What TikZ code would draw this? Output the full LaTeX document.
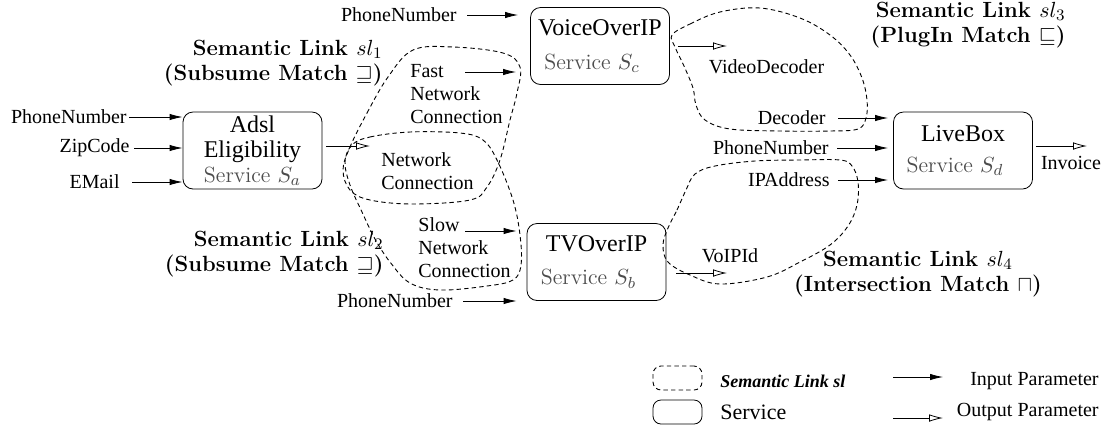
\documentclass[tikz,border=0pt]{standalone}
\usepackage{fontspec}
\newfontfamily\tms{Liberation Serif}
\usetikzlibrary{arrows.meta}
\definecolor{servgray}{gray}{0.3}

\begin{document}
\begin{tikzpicture}[
    x=0.5pt, y=-0.5pt,
    service/.style={draw,rounded corners=5pt,minimum width=69.5pt,minimum height=38.5pt,inner sep=0pt,align=center,font=\fontsize{12}{12.5}\selectfont},
    param/.style={font=\tms\fontsize{10}{11.5}\selectfont,inner sep=1pt},
    linklabel/.style={font=\fontsize{11}{12.5}\selectfont\bfseries,inner sep=0pt},
    slink/.style={dash pattern=on 2.2pt off 1.6pt,line width=0.45pt},
    inarrow/.style={-{Latex[length=6.5pt,width=3.2pt]}},
    outarrow/.style={-{Latex[open,length=7pt,width=3.8pt]}},
    >=latex
]
    \useasboundingbox (0,0) rectangle (1108,430);

    % Services
    \node[service] (sa) at (252.5,150.5) {{\tms Adsl}\\{\tms Eligibility}\\{\fontsize{11}{12.5}\selectfont\color{servgray}Service $S_a$}};
    \node[service] (sc) at (600,46) {{\tms VoiceOverIP}\\[4.5pt]{\fontsize{11}{12.5}\selectfont\color{servgray}Service $S_c$\kern8pt}};
    \node[service] (sb) at (596.5,262) {{\tms TVOverIP}\\[4pt]{\fontsize{11}{12.5}\selectfont\color{servgray}Service $S_b$\kern8pt}};
    \node[service] (sd) at (963,150.5) {{\tms LiveBox}\\[3pt]{\fontsize{11}{12.5}\selectfont\color{servgray}Service $S_d$\kern8pt}};

    % Parameters of S_a
    \node[param,anchor=east] (pna) at (129,117) {PhoneNumber};
    \node[param,anchor=east] (zip) at (132,148) {ZipCode};
    \node[param,anchor=east] (mail) at (122,182) {EMail};
    \draw[inarrow] (pna.east) -- (pna.east -| sa.west);
    \draw[inarrow] ([xshift=1pt]zip.east) -- (zip.east -| sa.west);
    \draw[inarrow] ([xshift=5pt]mail.east) -- (mail.east -| sa.west);
    \coordinate (nctip) at (370,146);
    \draw[outarrow] ([xshift=2pt]sa.east |- nctip) -- (nctip);
    \node[param,align=left] (nc) at (427.5,171.5) {Network\\Connection};

    % Parameters of S_c
    \node[param,anchor=east] (pnc) at (459,15) {PhoneNumber};
    \draw[inarrow,shorten >=6pt] ([xshift=4pt]pnc.east) -- (pnc.east -| sc.west);
    \node[param,align=left,anchor=north west] (fnc) at (408,62) {Fast\\Network\\Connection};
    \coordinate (fastin) at (465,72);
    \draw[inarrow,shorten >=7pt] (fastin) -- (fastin -| sc.west);
    \coordinate (vdtip) at (727,46);
    \draw[outarrow] ([xshift=4pt]sc.east |- vdtip) -- (vdtip);
    \node[param] (vd) at (766.5,67) {VideoDecoder};

    % Parameters of S_b
    \node[param,align=left,anchor=north west] (snc) at (416,215) {Slow\\Network\\Connection};
    \coordinate (slowin) at (465,231);
    \draw[inarrow,shorten >=5pt] (slowin) -- (slowin -| sb.west);
    \node[param,anchor=east] (pnb) at (455,301) {PhoneNumber};
    \draw[inarrow,shorten >=5pt] ([xshift=4pt]pnb.east) -- (pnb.east -| sb.west);
    \coordinate (voiptip) at (727,273);
    \draw[outarrow] ([xshift=5pt]sb.east |- voiptip) -- (voiptip);
    \node[param] (voip) at (730,256) {VoIPId};

    % Parameters of S_d
    \node[param,anchor=east] (dec) at (828,118) {Decoder};
    \node[param,anchor=east] (pnd) at (831,148) {PhoneNumber};
    \node[param,anchor=east] (ip) at (832,180) {IPAddress};
    \draw[inarrow,shorten >=2.5pt] ([xshift=5pt]dec.east) -- (dec.east -| sd.west);
    \draw[inarrow,shorten >=2.5pt] ([xshift=3pt]pnd.east) -- (pnd.east -| sd.west);
    \draw[inarrow,shorten >=2.5pt] ([xshift=3pt]ip.east) -- (ip.east -| sd.west);
    \coordinate (invtip) at (1087,146);
    \draw[outarrow] ([xshift=1.5pt]sd.east |- invtip) -- (invtip);
    \node[param] (inv) at (1071,163) {Invoice};

    % Semantic links
    \draw[slink] plot[smooth cycle,tension=0.6] coordinates {(350,147) (367,113) (388,77) (413,50) (453,47) (503,53) (520,67) (517,93) (510,120) (500,160) (487,187) (470,200) (413,204) (370,200) (350,190) (343,170)};
    \draw[slink] plot[smooth cycle,tension=0.6] coordinates {(352,145) (370,137) (410,132) (460,133) (483,140) (497,160) (513,200) (520,235) (521,265) (513,280) (487,286) (440,290) (410,283) (390,262) (375,239) (362,212) (350,185) (345,162)};
    \draw[slink] plot[smooth cycle,tension=0.6] coordinates {(672,35) (690,24) (720,12) (760,8) (800,18) (830,35) (850,55) (862,78) (867,100) (866,118) (858,129) (830,131) (780,131) (730,129) (705,120) (696,105) (693,88) (684,66) (675,47)};
    \draw[slink] plot[smooth cycle,tension=0.6] coordinates {(668,228) (677,210) (686,190) (695,174) (715,166) (755,161) (800,160) (840,160) (852,166) (858,182) (857,205) (848,226) (830,245) (800,262) (767,277) (720,284) (690,275) (668,262) (663,245)};

    \node[linklabel,align=right,anchor=east] (sl1) at (383,63) {Semantic Link $sl_1$\\(Subsume Match $\sqsupseteq$)};
    \node[linklabel,align=right,anchor=east] (sl2) at (384,254) {Semantic Link $sl_2$\\(Subsume Match $\sqsupseteq$)};
    \node[linklabel,align=right,anchor=east] (sl3) at (1066,25) {Semantic Link $sl_3$\\(PlugIn Match $\sqsubseteq$)};
    \node[linklabel,align=center] (sl4) at (918,274) {Semantic Link $sl_4$\\(Intersection Match $\sqcap$)};

    % Legend
    \node[draw,slink,rounded corners=4pt,minimum width=24.5pt,minimum height=12pt] (lglink) at (677.5,378) {};
    \node[draw,rounded corners=4pt,minimum width=24.5pt,minimum height=12pt] (lgserv) at (677.5,412) {};
    \node[anchor=west,inner sep=0pt,font=\tms\fontsize{9}{10}\selectfont\bfseries\itshape] (lglinktxt) at (720,381) {Semantic Link sl};
    \node[anchor=west,inner sep=0pt,font=\tms\fontsize{11}{12}\selectfont] (lgservtxt) at (720,412) {Service};
    \coordinate (inl) at (893,377);
    \coordinate (inr) at (943,377);
    \coordinate (outl) at (893,418);
    \coordinate (outr) at (943,418);
    \draw[inarrow] (inl) -- (inr);
    \draw[outarrow] (outl) -- (outr);
    \node[param,anchor=east] (lgin) at (1101,381) {Input Parameter};
    \node[param,anchor=east] (lgout) at (1101,412) {Output Parameter};
\end{tikzpicture}
\end{document}
